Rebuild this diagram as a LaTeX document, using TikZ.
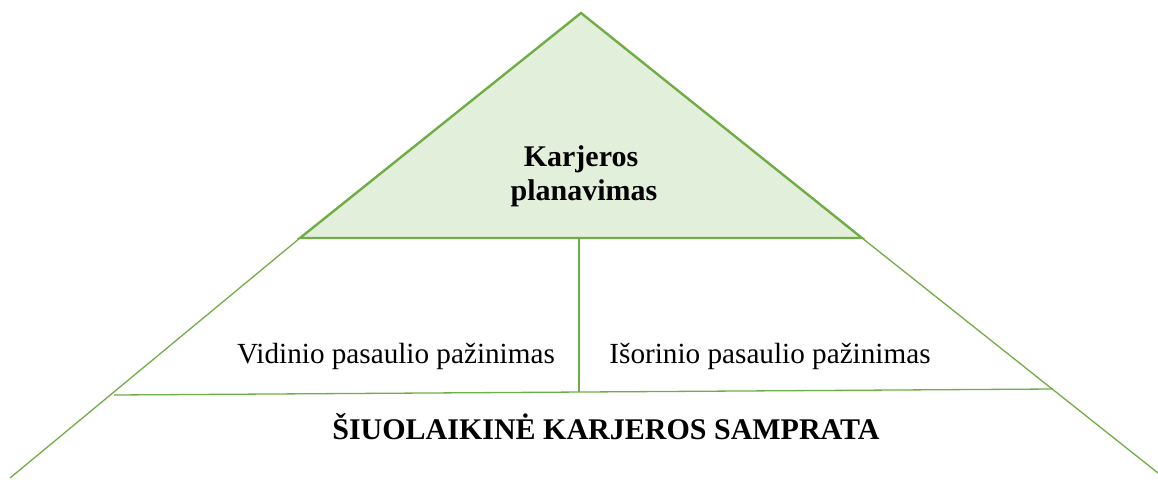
\documentclass[tikz,border=0pt]{standalone}
\usepackage{fontspec}
\setmainfont{Liberation Serif}
\definecolor{lineg}{HTML}{70AD47}
\definecolor{fillg}{HTML}{E2EFDA}
\tikzset{
  topline/.style={draw=lineg, line width=2.4pt, line join=miter, fill=fillg},
  thinline/.style={draw=lineg, line width=1.3pt},
  lbl/.style={anchor=base, inner sep=0pt, font=\fontsize{29.2}{34}\selectfont},
  blbl/.style={lbl, font=\fontsize{30}{34}\selectfont\bfseries}
}
\begin{document}
\begin{tikzpicture}[x=1pt,y=-1pt]
\useasboundingbox (0,0) rectangle (1158,479);
\coordinate (apex) at (581,13);
\coordinate (bl) at (300,238);
\coordinate (br) at (862,238);
\coordinate (L) at (10,478);
\coordinate (R) at (1158,473);
\coordinate (hl) at (114,395);
\coordinate (hr) at (1053,389);
\coordinate (vt) at (579,238);
\coordinate (vb) at (579,392);
\draw[thinline] (bl) -- (L);
\draw[thinline] (br) -- (R);
\draw[thinline] (hl) -- (hr);
\draw[thinline] (vt) -- (vb);
\draw[topline] (apex) -- (bl) -- (br) -- cycle;
\node[blbl] (k1) at (581,166) {Karjeros};
\node[blbl] (k2) at (584,200) {planavimas};
\node[lbl] (vid) at (396,363) {Vidinio pasaulio pažinimas};
\node[lbl] (isor) at (770,363) {Išorinio pasaulio pažinimas};
\node[blbl] (siu) at (606,439) {ŠIUOLAIKINĖ KARJEROS SAMPRATA};
\end{tikzpicture}
\end{document}
